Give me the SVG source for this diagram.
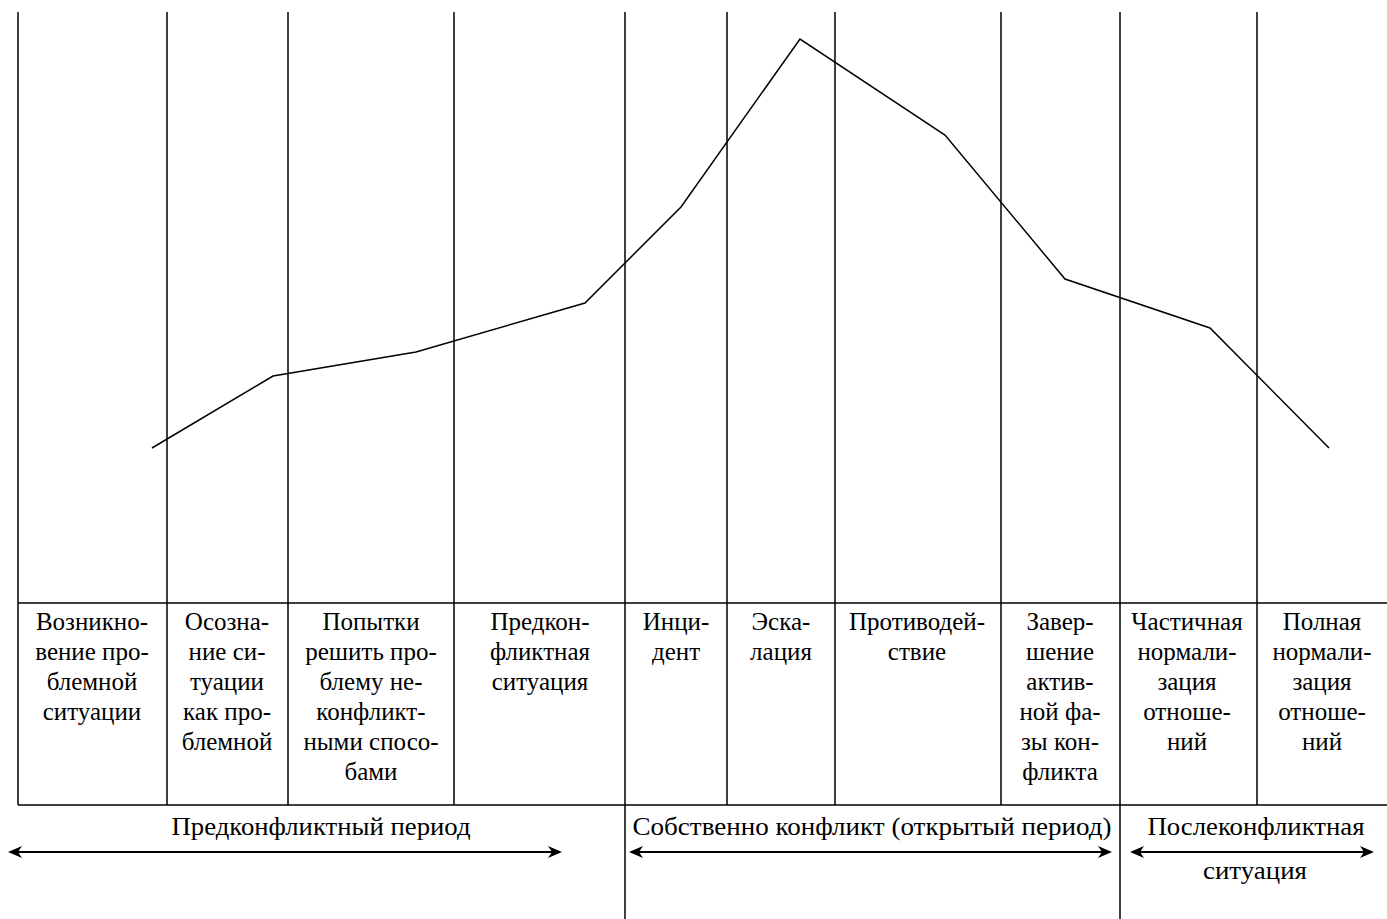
<svg xmlns="http://www.w3.org/2000/svg" width="1387" height="919" viewBox="0 0 1387 919">
<defs>
<marker id="ah" viewBox="0 0 14 12" refX="12" refY="6" markerWidth="14" markerHeight="12" markerUnits="userSpaceOnUse" orient="auto-start-reverse">
<path d="M0,0 L14,6 L0,12 L4,6 Z" fill="#000"/>
</marker>
</defs>
<rect width="1387" height="919" fill="#fff"/>
<g id="grid" stroke="#000" stroke-width="1.5" fill="none">
<line x1="18" y1="12" x2="18" y2="805"/>
<line x1="167" y1="12" x2="167" y2="805"/>
<line x1="288" y1="12" x2="288" y2="805"/>
<line x1="454" y1="12" x2="454" y2="805"/>
<line x1="625" y1="12" x2="625" y2="919"/>
<line x1="727" y1="12" x2="727" y2="805"/>
<line x1="835" y1="12" x2="835" y2="805"/>
<line x1="1001" y1="12" x2="1001" y2="805"/>
<line x1="1120" y1="12" x2="1120" y2="919"/>
<line x1="1257" y1="12" x2="1257" y2="805"/>
<line x1="18" y1="603" x2="1387" y2="603"/>
<line x1="18" y1="805" x2="1387" y2="805"/>
</g>
<g id="curve" stroke="#000" stroke-width="1.5" fill="none">
<polyline points="152,448 273,376 416,352 585,303 681,207 800,39 945,135 1065,279 1210,328 1329,448"/>
</g>
<g id="stages" font-family="Liberation Serif" font-size="25" text-anchor="middle" fill="#000">
<g id="stage1"><text x="92" y="630">Возникно-</text><text x="92" y="660">вение про-</text><text x="92" y="690">блемной</text><text x="92" y="720">ситуации</text></g>
<g id="stage2"><text x="227" y="630">Осозна-</text><text x="227" y="660">ние си-</text><text x="227" y="690">туации</text><text x="227" y="720">как про-</text><text x="227" y="750">блемной</text></g>
<g id="stage3"><text x="371" y="630">Попытки</text><text x="371" y="660">решить про-</text><text x="371" y="690">блему не-</text><text x="371" y="720">конфликт-</text><text x="371" y="750">ными спосо-</text><text x="371" y="780">бами</text></g>
<g id="stage4"><text x="540" y="630">Предкон-</text><text x="540" y="660">фликтная</text><text x="540" y="690">ситуация</text></g>
<g id="stage5"><text x="676" y="630">Инци-</text><text x="676" y="660">дент</text></g>
<g id="stage6"><text x="781" y="630">Эска-</text><text x="781" y="660">лация</text></g>
<g id="stage7"><text x="917" y="630">Противодей-</text><text x="917" y="660">ствие</text></g>
<g id="stage8"><text x="1060" y="630">Завер-</text><text x="1060" y="660">шение</text><text x="1060" y="690">актив-</text><text x="1060" y="720">ной фа-</text><text x="1060" y="750">зы кон-</text><text x="1060" y="780">фликта</text></g>
<g id="stage9"><text x="1187" y="630">Частичная</text><text x="1187" y="660">нормали-</text><text x="1187" y="690">зация</text><text x="1187" y="720">отноше-</text><text x="1187" y="750">ний</text></g>
<g id="stage10"><text x="1322" y="630">Полная</text><text x="1322" y="660">нормали-</text><text x="1322" y="690">зация</text><text x="1322" y="720">отноше-</text><text x="1322" y="750">ний</text></g>
</g>
<g id="periods" font-family="Liberation Serif" font-size="26" text-anchor="middle" fill="#000">
<text x="321" y="835" textLength="299" lengthAdjust="spacingAndGlyphs">Предконфликтный период</text>
<text x="872" y="835" textLength="479" lengthAdjust="spacingAndGlyphs">Собственно конфликт (открытый период)</text>
<text x="1256" y="835" textLength="217" lengthAdjust="spacingAndGlyphs">Послеконфликтная</text>
<text x="1255" y="879" textLength="104" lengthAdjust="spacingAndGlyphs">ситуация</text>
</g>
<g id="connectors" stroke="#000" stroke-width="2.2" fill="none">
<line x1="10" y1="852" x2="560" y2="852" marker-start="url(#ah)" marker-end="url(#ah)"/>
<line x1="631" y1="852" x2="1110" y2="852" marker-start="url(#ah)" marker-end="url(#ah)"/>
<line x1="1132" y1="852" x2="1372" y2="852" marker-start="url(#ah)" marker-end="url(#ah)"/>
</g>
</svg>
